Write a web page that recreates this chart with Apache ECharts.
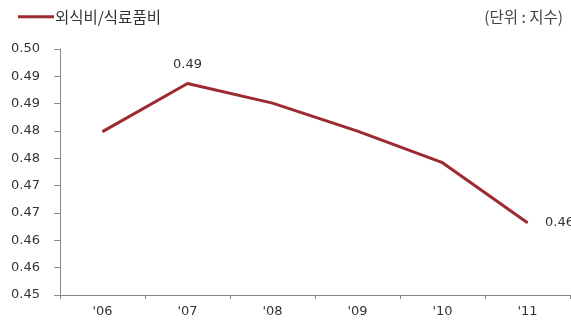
<!DOCTYPE html>
<html>
<head>
<meta charset="utf-8">
<script src="https://cdn.jsdelivr.net/npm/echarts@6/dist/echarts.min.js"></script>
<style>
  html, body { margin: 0; padding: 0; background: #fff; }
  #chart { width: 571px; height: 322px; }
</style>
</head>
<body>
<div id="chart"></div>
<script>
// Ratio of dining-out spending to food spending, 2006-2011
const categories = ["'06", "'07", "'08", "'09", "'10", "'11"];
const ratioValues = [0.4832, 0.4930, 0.4890, 0.4833, 0.4769, 0.4647];
const labelledPoints = [1, 5];
const yTickLabels = ['0.45', '0.46', '0.46', '0.47', '0.47', '0.48', '0.48', '0.49', '0.49', '0.50'];
const seriesName = '외식비/식료품비';
const unitText = '(단위 : 지수)';

const NUM_FONT = '"DejaVu Sans", "Noto Sans CJK KR", sans-serif';
const KR_FONT = '"Noto Sans CJK KR", "DejaVu Sans", sans-serif';
const LINE_COLOR = '#9c2a30';
const AXIS_COLOR = '#8a8a8a';

// The value axis spans 0.45-0.50 in nine equal steps; it works in
// ninths of 0.05 (value * 180) so every tick falls on an integer.
const SCALE = 180;
const yMin = 0.45 * SCALE, yMax = 0.50 * SCALE, yStep = 1;

const chart = echarts.init(document.getElementById('chart'), null, { renderer: 'canvas' });

chart.setOption({
  animation: false,
  textStyle: { fontFamily: NUM_FONT },
  title: {
    text: unitText,
    right: 3,
    top: 4,
    textStyle: { fontSize: 15.5, fontWeight: 'normal', color: '#444', fontFamily: KR_FONT }
  },
  legend: {
    left: 13,
    top: 4,
    icon: 'rect',
    itemWidth: 36,
    itemHeight: 3,
    itemGap: 4,
    itemStyle: { color: LINE_COLOR, opacity: 1 },
    data: [seriesName],
    textStyle: { fontSize: 15.5, color: '#333', fontFamily: KR_FONT, padding: [0, 0, 0, -4] }
  },
  grid: { left: 60, right: 1, top: 49, bottom: 27, containLabel: false, outerBoundsMode: 'none' },
  xAxis: {
    type: 'category',
    data: categories,
    boundaryGap: true,
    axisLine: { lineStyle: { color: AXIS_COLOR, width: 1 } },
    axisTick: { show: true, length: 4, lineStyle: { color: AXIS_COLOR } },
    axisLabel: { fontSize: 13, color: '#333', margin: 10, fontFamily: NUM_FONT },
    splitLine: { show: false }
  },
  yAxis: {
    type: 'value',
    min: yMin,
    max: yMax,
    interval: yStep,
    axisLine: { show: true, lineStyle: { color: AXIS_COLOR, width: 1 } },
    axisTick: { show: true, length: 6, lineStyle: { color: AXIS_COLOR } },
    axisLabel: {
      fontSize: 13,
      color: '#333',
      margin: 20,
      fontFamily: NUM_FONT,
      formatter: function (v) {
        const i = Math.round((v - yMin) / yStep);
        return yTickLabels[i] !== undefined ? yTickLabels[i] : '';
      }
    },
    splitLine: { show: false }
  },
  series: [{
    name: seriesName,
    type: 'line',
    data: ratioValues.map(function (v, i) {
      const item = { value: v * SCALE };
      if (labelledPoints.indexOf(i) >= 0) {
        const last = i === categories.length - 1;
        item.label = {
          show: true,
          position: last ? 'right' : 'top',
          distance: last ? 17 : 12,
          fontSize: 13,
          color: '#333',
          fontFamily: NUM_FONT,
          formatter: function () { return v.toFixed(2); }
        };
      }
      return item;
    }),
    showSymbol: true,
    symbol: 'circle',
    symbolSize: 1,
    itemStyle: { color: LINE_COLOR },
    lineStyle: { color: LINE_COLOR, width: 3 },
    emphasis: { disabled: true },
    clip: false
  }]
});
</script>
</body>
</html>
